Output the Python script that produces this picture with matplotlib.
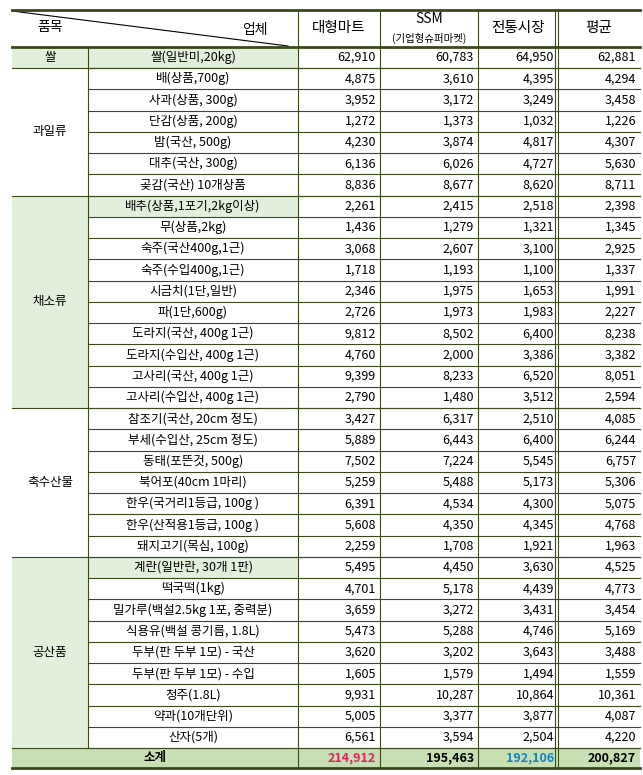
import matplotlib
matplotlib.use("Agg")
import matplotlib.pyplot as plt
from matplotlib.patches import Rectangle

plt.rcParams['font.family'] = ['Noto Sans CJK KR', 'DejaVu Sans']

groups = ["쌀", "과일류", "채소류", "축수산물", "공산품"]
group_sizes = [1, 6, 10, 7, 9]
group_green = [True, False, True, False, True]
items = ["쌀(일반미,20kg)",
         "배(상품,700g)", "사과(상품, 300g)", "단감(상품, 200g)", "밤(국산, 500g)", "대추(국산, 300g)", "곶감(국산) 10개상품",
         "배추(상품,1포기,2kg이상)", "무(상품,2kg)", "숙주(국산400g,1근)", "숙주(수입400g,1근)", "시금치(1단,일반)",
         "파(1단,600g)", "도라지(국산, 400g 1근)", "도라지(수입산, 400g 1근)", "고사리(국산, 400g 1근)", "고사리(수입산, 400g 1근)",
         "참조기(국산, 20cm 정도)", "부세(수입산, 25cm 정도)", "동태(포뜬것, 500g)", "북어포(40cm 1마리)",
         "한우(국거리1등급, 100g )", "한우(산적용1등급, 100g )", "돼지고기(목심, 100g)",
         "계란(일반란, 30개 1판)", "떡국떡(1kg)", "밀가루(백설2.5kg 1포, 중력분)", "식용유(백설 콩기름, 1.8L)",
         "두부(판 두부 1모) - 국산", "두부(판 두부 1모) - 수입", "청주(1.8L)", "약과(10개단위)", "산자(5개)"]
mart = [62910, 4875, 3952, 1272, 4230, 6136, 8836, 2261, 1436, 3068, 1718, 2346, 2726, 9812, 4760, 9399, 2790,
        3427, 5889, 7502, 5259, 6391, 5608, 2259, 5495, 4701, 3659, 5473, 3620, 1605, 9931, 5005, 6561]
ssm = [60783, 3610, 3172, 1373, 3874, 6026, 8677, 2415, 1279, 2607, 1193, 1975, 1973, 8502, 2000, 8233, 1480,
       6317, 6443, 7224, 5488, 4534, 4350, 1708, 4450, 5178, 3272, 5288, 3202, 1579, 10287, 3377, 3594]
trad = [64950, 4395, 3249, 1032, 4817, 4727, 8620, 2518, 1321, 3100, 1100, 1653, 1983, 6400, 3386, 6520, 3512,
        2510, 6400, 5545, 5173, 4300, 4345, 1921, 3630, 4439, 3431, 4746, 3643, 1494, 10864, 3877, 2504]
avg = [62881, 4294, 3458, 1226, 4307, 5630, 8711, 2398, 1345, 2925, 1337, 1991, 2227, 8238, 3382, 8051, 2594,
       4085, 6244, 6757, 5306, 5075, 4768, 1963, 4525, 4773, 3454, 5169, 3488, 1559, 10361, 4087, 4220]
totals = [214912, 195463, 192106, 200827]
total_colors = ["#e0245e", "black", "#1a7fc1", "black"]
green_items = {0, 7, 24}

W, H = 643, 775
fig = plt.figure(figsize=(W/100, H/100), dpi=100)
ax = fig.add_axes([0, 0, 1, 1])
ax.set_xlim(0, W); ax.set_ylim(H, 0); ax.axis('off')

cx = [12, 88, 298, 380, 478, 558, 640]
top, hdr, bot_rows, bot = 10, 47, 748, 768
n = len(items)
rh = (bot_rows - hdr) / n
lc = "#3a4a1a"
green = "#e2efda"
tgreen = "#c6e0b4"
fs = 9

r = 0
for g, sz, gg in zip(groups, group_sizes, group_green):
    y0 = hdr + r * rh
    if gg:
        ax.add_patch(Rectangle((cx[0], y0), cx[1]-cx[0], sz*rh, color=green, lw=0))
    ax.text((cx[0]+cx[1])/2, y0 + sz*rh/2, g, ha='center', va='center', fontsize=fs)
    r += sz
for i in green_items:
    ax.add_patch(Rectangle((cx[1], hdr+i*rh), cx[2]-cx[1], rh, color=green, lw=0))
ax.add_patch(Rectangle((cx[0], bot_rows), cx[-1]-cx[0], bot-bot_rows, color=tgreen, lw=0))

for i in range(n):
    yc = hdr + (i+0.5)*rh
    ax.text((cx[1]+cx[2])/2, yc, items[i], ha='center', va='center', fontsize=fs)
    for j, vals in enumerate([mart, ssm, trad, avg]):
        ax.text(cx[3+j]-4, yc, f"{vals[i]:,}", ha='right', va='center', fontsize=fs)
    ax.plot([cx[1], cx[-1]], [hdr+(i+1)*rh]*2, color=lc, lw=0.8)

yc = (bot_rows+bot)/2
ax.text((cx[0]+cx[2])/2, yc, "소계", ha='center', va='center', fontsize=fs, fontweight='bold')
for j, (v, c) in enumerate(zip(totals, total_colors)):
    ax.text(cx[3+j]-4, yc, f"{v:,}", ha='right', va='center', fontsize=fs, fontweight='bold', color=c)

r = 0
for sz in group_sizes:
    r += sz
    ax.plot([cx[0], cx[-1]], [hdr+r*rh]*2, color=lc, lw=0.8)

ax.text(50, 27, "품목", ha='center', va='center', fontsize=10)
ax.text(255, 30, "업체", ha='center', va='center', fontsize=10)
ax.plot([12, 288], [11, 46], color='black', lw=0.8)
ax.text((cx[2]+cx[3])/2, 28, "대형마트", ha='center', va='center', fontsize=10.5)
ax.text((cx[3]+cx[4])/2, 19, "SSM", ha='center', va='center', fontsize=10)
ax.text((cx[3]+cx[4])/2, 38, "(기업형슈퍼마켓)", ha='center', va='center', fontsize=7.5)
ax.text((cx[4]+cx[5])/2, 28, "전통시장", ha='center', va='center', fontsize=10.5)
ax.text((cx[5]+cx[6])/2, 28, "평균", ha='center', va='center', fontsize=10.5)

ax.plot([cx[0], cx[-1]], [top, top], color=lc, lw=2)
ax.plot([cx[0], cx[-1]], [hdr, hdr], color=lc, lw=2)
ax.plot([cx[0], cx[-1]], [bot, bot], color=lc, lw=2)
for k, x in enumerate(cx[1:-1], start=1):
    y_start = top if k >= 2 else hdr
    y_end = bot if k >= 2 else bot_rows
    ax.plot([x, x], [y_start, y_end], color=lc, lw=0.8)
ax.plot([cx[5]-3, cx[5]-3], [top, bot], color=lc, lw=0.8)

fig.savefig("out.png", dpi=100)
